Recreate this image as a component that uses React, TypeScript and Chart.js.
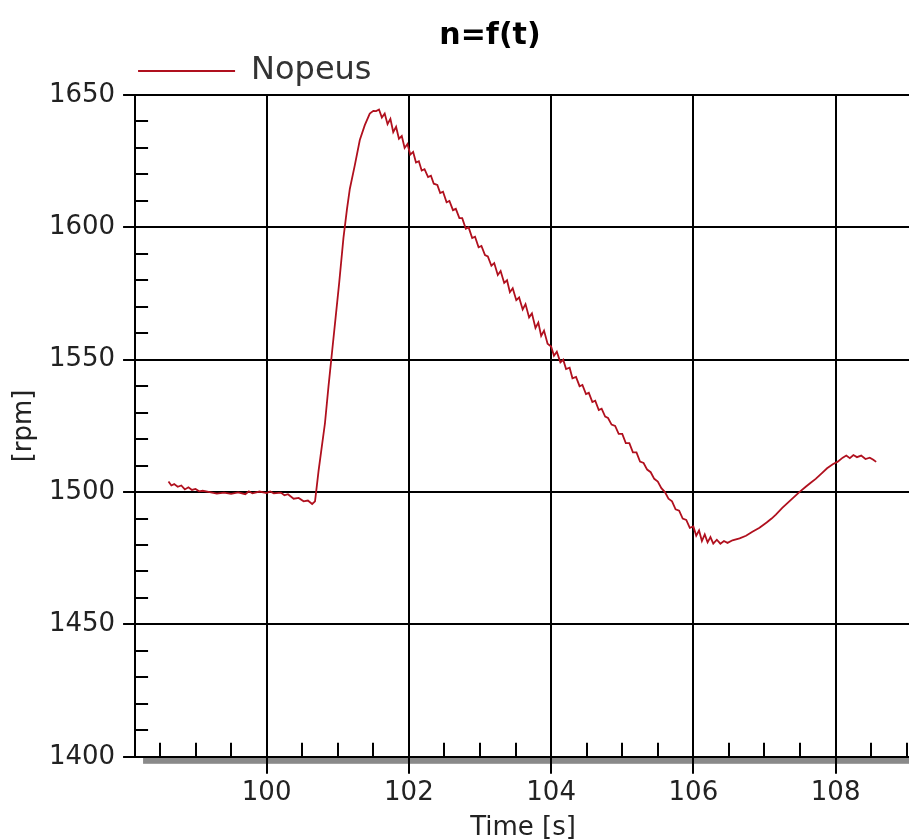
import React, { useEffect, useRef } from 'react';
import { Chart, registerables } from 'chart.js';

Chart.register(...registerables);

const chartTitle = 'n=f(t)';
const seriesLabel = 'Nopeus';
const xAxisTitle = 'Time [s]';
const yAxisTitle = '[rpm]';

const timeValues = [
  98.62, 98.66, 98.7, 98.75, 98.8, 98.85, 98.9, 98.95, 99.0, 99.05, 99.1, 99.2, 99.3, 99.4, 99.5,
  99.6, 99.7, 99.75, 99.8, 99.9, 100.0, 100.05, 100.1, 100.2, 100.25, 100.3, 100.38, 100.45, 100.52,
  100.58, 100.64, 100.68, 100.7, 100.73, 100.77, 100.82, 100.87, 100.92, 100.97, 101.02, 101.08,
  101.13, 101.17, 101.24, 101.31, 101.38, 101.45, 101.5, 101.54,
  101.58, 101.62, 101.66, 101.7, 101.74, 101.78, 101.82, 101.86, 101.9, 101.94, 101.98,
  102.02, 102.06, 102.1, 102.14, 102.18, 102.22, 102.27, 102.31, 102.35, 102.4, 102.44, 102.48,
  102.53, 102.57, 102.62, 102.66, 102.71, 102.75, 102.8, 102.84, 102.89, 102.93, 102.98,
  103.02, 103.07, 103.11, 103.16, 103.2, 103.25, 103.29, 103.34, 103.38, 103.42, 103.46, 103.51,
  103.55, 103.6, 103.64, 103.69, 103.73, 103.78, 103.82, 103.86, 103.9, 103.95,
  104.0, 104.04, 104.08, 104.13, 104.17, 104.21, 104.26, 104.3, 104.35, 104.4, 104.44, 104.49,
  104.53, 104.58, 104.62, 104.67, 104.71, 104.76, 104.8, 104.85, 104.9, 104.95,
  105.0, 105.05, 105.1, 105.15, 105.2, 105.25, 105.3, 105.35, 105.4, 105.45, 105.5, 105.55,
  105.6, 105.65, 105.7, 105.75, 105.8, 105.85, 105.9, 105.95,
  106.0, 106.04, 106.08, 106.12, 106.16, 106.2, 106.24, 106.28, 106.33, 106.38, 106.43, 106.48,
  106.55, 106.65, 106.74, 106.83, 106.93, 107.03, 107.1, 107.16, 107.25, 107.33,
  107.41, 107.49, 107.58, 107.65, 107.72, 107.8, 107.88, 107.96, 108.03, 108.1, 108.15, 108.2,
  108.25, 108.3, 108.36, 108.42, 108.48, 108.53, 108.57,
];

const rpmValues = [
  1504, 1502.5, 1503, 1502, 1502.5, 1501, 1501.8, 1500.8, 1501.2, 1500.3, 1500.5, 1500, 1499.4, 1499.8, 1499.3,
  1499.9, 1499.2, 1500.3, 1499.5, 1500.2, 1499.6, 1500.2, 1499.5, 1499.8, 1498.8, 1499.2, 1497.5, 1497.8, 1496.5,
  1496.8, 1495.5, 1496.5, 1501, 1508, 1516, 1526, 1540, 1553, 1566, 1579, 1596,
  1607, 1614.6, 1623.5, 1633, 1638.6, 1643, 1644, 1643.9,
  1644.5, 1641.5, 1643, 1639, 1641, 1636, 1638, 1633.5, 1634.5, 1630, 1631.5,
  1627.5, 1628.5, 1624.5, 1625, 1621.5, 1622, 1619, 1619.5, 1616.5, 1616, 1613, 1613.5,
  1609.5, 1610, 1606.5, 1607, 1603.5, 1603.5, 1599.5, 1600, 1596, 1596.5, 1592.5,
  1593, 1589.5, 1589, 1585.5, 1586.5, 1582, 1583.5, 1579, 1580, 1575.5, 1577, 1572.5,
  1573.5, 1569, 1571, 1566, 1567.5, 1562, 1564, 1559, 1561, 1556,
  1555, 1551.5, 1553, 1549, 1550, 1546.5, 1547, 1543, 1543.5, 1540, 1540.5, 1537,
  1537.5, 1534, 1534.5, 1531, 1531.5, 1528.5, 1528, 1525.5, 1525, 1522,
  1522, 1518.5, 1518.5, 1515, 1515, 1511.5, 1511, 1508.5, 1507.5, 1505, 1504, 1501.5,
  1500, 1497.5, 1496.5, 1493.5, 1493, 1490, 1489.5, 1486.5,
  1487, 1483.5, 1485.5, 1481.5, 1484, 1481, 1483, 1480.5, 1482, 1480.5, 1481.5, 1480.8,
  1481.8, 1482.5, 1483.5, 1485, 1486.5, 1488.5, 1490, 1491.5, 1494, 1496,
  1498, 1500, 1502, 1503.5, 1505, 1507, 1509, 1510.5, 1511.5, 1513, 1513.8, 1512.8,
  1514, 1513.2, 1513.8, 1512.5, 1513, 1512.2, 1511.4,
];

const xMajorTicks = [100, 102, 104, 106, 108];
const xMinorTicks = [98.5, 99, 99.5, 100.5, 101, 101.5, 102.5, 103, 103.5, 104.5, 105, 105.5, 106.5, 107, 107.5, 108.5, 109];
const yMajorTicks = [1400, 1450, 1500, 1550, 1600, 1650];
const yMinorTicks = [
  1410, 1420, 1430, 1440, 1460, 1470, 1480, 1490, 1510, 1520, 1530, 1540,
  1560, 1570, 1580, 1590, 1610, 1620, 1630, 1640,
];

const FONT = 'DejaVu Sans';

const decorPlugin = {
  id: 'decor',
  beforeDraw(chart: any) {
    const { ctx, chartArea } = chart;
    ctx.save();
    ctx.fillStyle = '#8a8a8a';
    ctx.fillRect(chartArea.left + 8, chartArea.bottom + 1, chartArea.right - chartArea.left, 6);
    ctx.restore();
    const lg = chart.legend;
    if (lg) {
      lg.left = chartArea.left;
      lg.top = chartArea.top - lg.height + 2;
    }
  },
  beforeDatasetsDraw(chart: any) {
    const { ctx, chartArea, scales } = chart;
    const xs = scales.x;
    const ys = scales.y;
    ctx.save();
    ctx.strokeStyle = '#000';
    ctx.lineWidth = 2;
    ctx.beginPath();
    for (const v of yMinorTicks) {
      const py = Math.round(ys.getPixelForValue(v));
      ctx.moveTo(chartArea.left, py);
      ctx.lineTo(chartArea.left + 13, py);
    }
    for (const v of xMinorTicks) {
      const px = Math.round(xs.getPixelForValue(v));
      ctx.moveTo(px, chartArea.bottom);
      ctx.lineTo(px, chartArea.bottom - 14);
    }
    ctx.stroke();
    ctx.restore();
  },
};

export default function App() {
  const canvasRef = useRef<HTMLCanvasElement | null>(null);

  useEffect(() => {
    if (!canvasRef.current) return;
    Chart.defaults.font.family = FONT;
    const chart = new Chart(canvasRef.current, {
      type: 'line',
      data: {
        datasets: [
          {
            label: seriesLabel,
            data: timeValues.map((t, i) => ({ x: t, y: rpmValues[i] })),
            borderColor: '#b0101e',
            backgroundColor: '#b0101e',
            borderWidth: 1.8,
            pointRadius: 0,
            tension: 0,
            fill: false,
          },
        ],
      },
      options: {
        animation: false,
        events: [],
        responsive: true,
        maintainAspectRatio: false,
        layout: { padding: 0 },
        plugins: {
          title: {
            display: true,
            text: chartTitle,
            color: '#000',
            font: { family: FONT, size: 30, weight: 'bold', lineHeight: 0.94 },
            padding: { top: 21.8, bottom: 0 },
          },
          legend: {
            display: true,
            position: 'top',
            align: 'start',
            labels: {
              usePointStyle: true,
              pointStyle: 'line',
              pointStyleWidth: 97,
              padding: 3,
              color: '#333',
              font: { family: FONT, size: 32 },
            },
          },
          tooltip: { enabled: false },
        },
        scales: {
          x: {
            type: 'linear',
            min: 98.15,
            max: 109.06,
            afterBuildTicks: (s: any) => {
              s.ticks = xMajorTicks.map((v) => ({ value: v }));
            },
            ticks: {
              color: '#222',
              font: { family: FONT, size: 26 },
              padding: 4,
              maxRotation: 0,
              autoSkip: false,
              callback: (v: any) => String(v),
            },
            grid: { color: '#000', lineWidth: 2, tickLength: 17, drawTicks: true },
            border: { color: '#000', width: 2 },
            title: {
              display: true,
              text: xAxisTitle,
              color: '#222',
              font: { family: FONT, size: 26, lineHeight: 0.8 },
              padding: { top: 5.2, bottom: 0 },
            },
          },
          y: {
            type: 'linear',
            min: 1400,
            max: 1650,
            afterBuildTicks: (s: any) => {
              s.ticks = yMajorTicks.map((v) => ({ value: v }));
            },
            ticks: {
              color: '#222',
              font: { family: FONT, size: 26 },
              padding: 8,
              autoSkip: false,
              callback: (v: any) => String(v),
            },
            grid: { color: '#000', lineWidth: 2, tickLength: 12, drawTicks: true },
            border: { color: '#000', width: 2 },
            title: {
              display: true,
              text: yAxisTitle,
              color: '#222',
              font: { family: FONT, size: 26 },
              padding: { top: 9, bottom: 0.7 },
            },
          },
          yRightSpace: {
            type: 'linear',
            position: 'right',
            min: 0,
            max: 1,
            display: true,
            ticks: { display: false },
            grid: { display: false, drawTicks: false },
            border: { display: false },
            afterFit: (s: any) => {
              s.width = 69;
            },
          },
        },
      },
      plugins: [decorPlugin],
    } as any);
    return () => chart.destroy();
  }, []);

  return (
    <div style={{ position: 'absolute', left: 0, top: 0, width: 909, height: 839, overflow: 'hidden', background: '#fff' }}>
      <div style={{ position: 'relative', width: 980, height: 839 }}>
        <canvas ref={canvasRef} />
      </div>
    </div>
  );
}
